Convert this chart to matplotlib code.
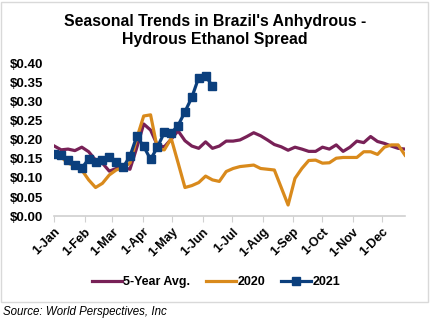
import numpy as np
import matplotlib
matplotlib.use('Agg')
import matplotlib.pyplot as plt
from matplotlib.patches import Rectangle

plt.rcParams['font.family'] = ['Liberation Sans', 'DejaVu Sans']

# weekly observations, day of year from 1-Jan
avg5 = [0.184, 0.174, 0.176, 0.172, 0.181, 0.169, 0.147, 0.139, 0.118, 0.125,
        0.128, 0.123, 0.180, 0.242, 0.226, 0.186, 0.182, 0.202, 0.224, 0.198,
        0.184, 0.178, 0.195, 0.178, 0.184, 0.197, 0.197, 0.200, 0.209, 0.219,
        0.211, 0.200, 0.188, 0.182, 0.173, 0.181, 0.176, 0.170, 0.170, 0.181,
        0.176, 0.187, 0.170, 0.181, 0.197, 0.193, 0.209, 0.196, 0.191, 0.184,
        0.178, 0.176]
y2020 = [0.162, 0.155, 0.139, 0.132, 0.121, 0.095, 0.075, 0.086, 0.108, 0.121,
         0.128, 0.139, 0.205, 0.263, 0.266, 0.176, 0.174, 0.204, 0.140, 0.075,
         0.080, 0.088, 0.105, 0.095, 0.091, 0.117, 0.125, 0.130, 0.132, 0.134,
         0.125, 0.123, 0.121, 0.075, 0.029, 0.099, 0.125, 0.146, 0.147, 0.139,
         0.140, 0.152, 0.154, 0.154, 0.154, 0.169, 0.169, 0.162, 0.181, 0.187,
         0.187, 0.160]
y2021 = [0.162, 0.160, 0.147, 0.133, 0.126, 0.150, 0.142, 0.147, 0.155, 0.142,
         0.128, 0.157, 0.210, 0.183, 0.149, 0.181, 0.220, 0.218, 0.238, 0.274,
         0.312, 0.364, 0.368, 0.342]

month_days = [0, 31, 59, 90, 120, 151, 181, 212, 243, 273, 304, 334]
month_labels = ['1-Jan', '1-Feb', '1-Mar', '1-Apr', '1-May', '1-Jun',
                '1-Jul', '1-Aug', '1-Sep', '1-Oct', '1-Nov', '1-Dec']

days = np.arange(len(avg5)) * 7
days21 = np.arange(len(y2021)) * 7

fig = plt.figure(figsize=(4.32, 3.21), dpi=100)
ax = fig.add_axes([0.1257, 0.327, 0.8118, 0.474])

ax.plot(days, avg5, color='#782157', lw=2.3, label='5-Year Avg.')
ax.plot(days, y2020, color='#D98A1C', lw=2.3, label='2020')
ax.plot(days21, y2021, color='#0B3F7D', lw=2.3, marker='s', ms=5.5,
        label='2021')

ax.set_xlim(0, 357)
ax.set_ylim(0, 0.40)
ax.set_yticks(np.arange(0, 0.401, 0.05))
ax.set_yticklabels(['$%.2f' % v for v in np.arange(0, 0.401, 0.05)],
                   fontsize=9.5, fontweight='bold')
ax.set_xticks(month_days)
ax.set_xticklabels(month_labels, fontsize=9, fontweight='bold',
                   rotation=45, ha='right', rotation_mode='anchor')
ax.tick_params(axis='y', length=0, pad=8)
ax.tick_params(axis='x', length=4, color='#D0D0D0', pad=3)
for s in ['top', 'right', 'left']:
    ax.spines[s].set_visible(False)
ax.spines['bottom'].set_color('#D0D0D0')
ax.spines['bottom'].set_linewidth(1.2)

fig.text(0.498, 0.905, "Seasonal Trends in Brazil's Anhydrous -\nHydrous Ethanol Spread",
         ha='center', va='center', fontsize=11.4, fontweight='bold',
         linespacing=1.2)

leg = fig.legend(loc='center', bbox_to_anchor=(0.5, 1 - 282 / 321), ncol=3,
                 frameon=False, handlelength=2.4, handletextpad=0.1,
                 columnspacing=1.3, prop={'size': 9, 'weight': 'bold'})

fig.patches.append(Rectangle((1 / 432, 1 - 302 / 321), 427 / 432, 300 / 321,
                             transform=fig.transFigure, fill=False,
                             edgecolor='#D9D9D9', lw=1.0))
fig.text(3 / 432, 1 - 312 / 321, 'Source: World Perspectives, Inc',
         ha='left', va='center', fontsize=8.3, style='italic')

fig.savefig('out.png', dpi=100)
